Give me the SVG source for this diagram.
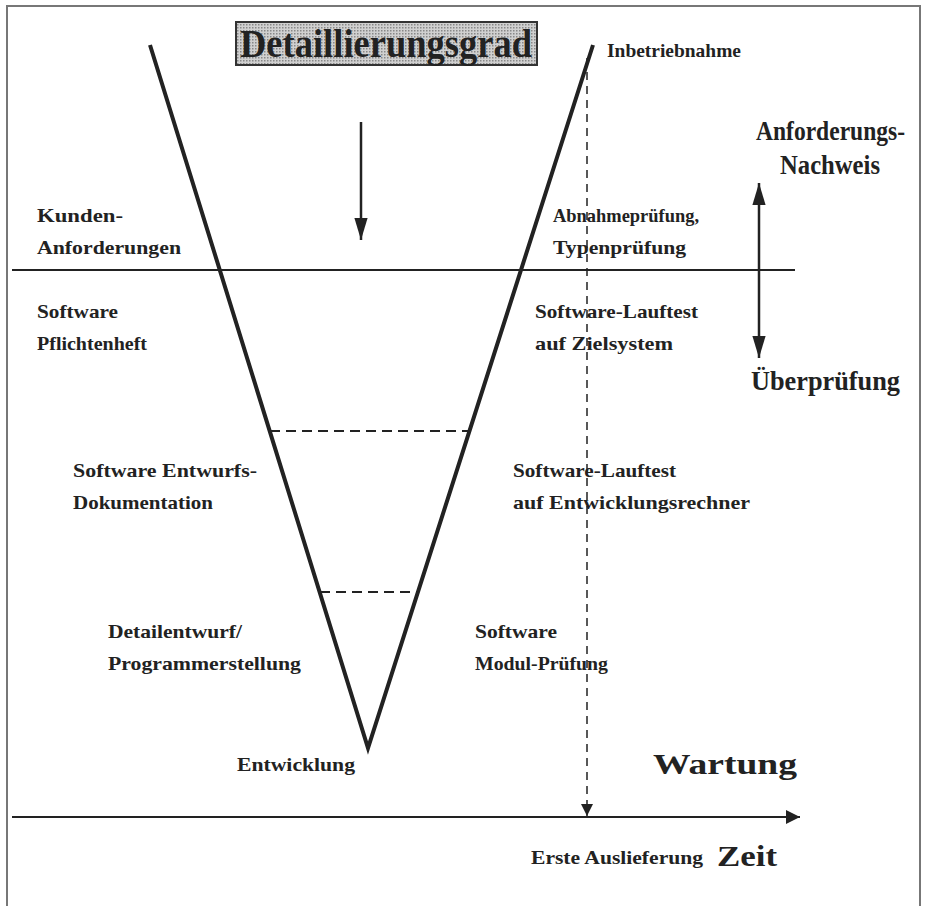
<svg xmlns="http://www.w3.org/2000/svg" width="930" height="906" viewBox="0 0 930 906">
<style>
.t{font-family:"Liberation Serif","Times New Roman",serif;font-weight:bold;fill:#222;}
.s{font-size:19px;}
.b{font-size:27px;}
.w{font-size:30px;}
.ln{stroke:#222;fill:none;}
</style>
<defs>
<pattern id="dots" width="3" height="3" patternUnits="userSpaceOnUse"><rect width="3" height="3" fill="#d0d0d0"/><rect width="1.5" height="1.5" fill="#888"/></pattern>
<marker id="ah" viewBox="0 0 10 10" refX="10" refY="5" markerWidth="14" markerHeight="14" markerUnits="userSpaceOnUse" orient="auto"><path d="M0,0 L10,5 L0,10 z" fill="#222"/></marker>
<marker id="ahs" viewBox="0 0 10 10" refX="10" refY="5" markerWidth="12" markerHeight="12" markerUnits="userSpaceOnUse" orient="auto"><path d="M0,0 L10,5 L0,10 z" fill="#222"/></marker>
<marker id="ahb" viewBox="0 0 10 10" refX="10" refY="5" markerWidth="22" markerHeight="22" markerUnits="userSpaceOnUse" orient="auto"><path d="M0,2 L10,5 L0,8 z" fill="#222"/></marker>
</defs>
<rect x="0" y="0" width="930" height="906" fill="#fff"/>
<rect x="7" y="6" width="913" height="912" fill="none" stroke="#777" stroke-width="2"/>
<g id="connectors">
<path class="ln" d="M150,45 L368,748 L593,45" stroke-width="4" stroke-linejoin="miter"/>
<line class="ln" x1="12" y1="270" x2="795" y2="270" stroke-width="2"/>
<line class="ln" x1="270" y1="431" x2="470" y2="431" stroke-width="2" stroke-dasharray="10,6"/>
<line class="ln" x1="320" y1="592" x2="417" y2="592" stroke-width="2" stroke-dasharray="10,6"/>
<line class="ln" x1="587" y1="58" x2="587" y2="816" stroke-width="1.5" stroke-dasharray="8,6" marker-end="url(#ahs)"/>
<line class="ln" x1="12" y1="817" x2="800" y2="817" stroke-width="2" marker-end="url(#ah)"/>
<line class="ln" x1="361" y1="122" x2="361" y2="240" stroke-width="2.5" marker-end="url(#ahb)"/>
<line class="ln" x1="759" y1="270" x2="759" y2="183" stroke-width="2.5" marker-end="url(#ahb)"/>
<line class="ln" x1="759" y1="270" x2="759" y2="358" stroke-width="2.5" marker-end="url(#ahb)"/>
</g>
<g id="title">
<rect x="236" y="22" width="301" height="43" fill="url(#dots)" stroke="#333" stroke-width="2"/>
<text class="t" x="240" y="57" font-size="40" textLength="292" lengthAdjust="spacingAndGlyphs">Detaillierungsgrad</text>
</g>
<g id="inbetriebnahme"><text class="t s" x="607" y="57" textLength="134" lengthAdjust="spacingAndGlyphs">Inbetriebnahme</text></g>
<g id="anforderungsnachweis">
<text class="t b" x="756" y="140" textLength="149" lengthAdjust="spacingAndGlyphs">Anforderungs-</text>
<text class="t b" x="780" y="174" textLength="100" lengthAdjust="spacingAndGlyphs">Nachweis</text>
</g>
<g id="kunden"><text class="t s" x="37" y="222" textLength="86" lengthAdjust="spacingAndGlyphs">Kunden-</text><text class="t s" x="37" y="254" textLength="144" lengthAdjust="spacingAndGlyphs">Anforderungen</text></g>
<g id="abnahme"><text class="t s" x="553" y="222" textLength="146" lengthAdjust="spacingAndGlyphs">Abnahmeprüfung,</text><text class="t s" x="553" y="254" textLength="133" lengthAdjust="spacingAndGlyphs">Typenprüfung</text></g>
<g id="pflichtenheft"><text class="t s" x="37" y="318" textLength="81" lengthAdjust="spacingAndGlyphs">Software</text><text class="t s" x="37" y="350" textLength="110" lengthAdjust="spacingAndGlyphs">Pflichtenheft</text></g>
<g id="lauftest-ziel"><text class="t s" x="535" y="318" textLength="163" lengthAdjust="spacingAndGlyphs">Software-Lauftest</text><text class="t s" x="535" y="350" textLength="138" lengthAdjust="spacingAndGlyphs">auf Zielsystem</text></g>
<g id="ueberpruefung"><text class="t b" x="751" y="390" textLength="149" lengthAdjust="spacingAndGlyphs">Überprüfung</text></g>
<g id="entwurf"><text class="t s" x="73" y="477" textLength="184" lengthAdjust="spacingAndGlyphs">Software Entwurfs-</text><text class="t s" x="73" y="509" textLength="140" lengthAdjust="spacingAndGlyphs">Dokumentation</text></g>
<g id="lauftest-entw"><text class="t s" x="513" y="477" textLength="163" lengthAdjust="spacingAndGlyphs">Software-Lauftest</text><text class="t s" x="513" y="509" textLength="237" lengthAdjust="spacingAndGlyphs">auf Entwicklungsrechner</text></g>
<g id="detailentwurf"><text class="t s" x="108" y="638" textLength="134" lengthAdjust="spacingAndGlyphs">Detailentwurf/</text><text class="t s" x="108" y="670" textLength="193" lengthAdjust="spacingAndGlyphs">Programmerstellung</text></g>
<g id="modul"><text class="t s" x="475" y="638" textLength="82" lengthAdjust="spacingAndGlyphs">Software</text><text class="t s" x="475" y="670" textLength="133" lengthAdjust="spacingAndGlyphs">Modul-Prüfung</text></g>
<g id="entwicklung"><text class="t s" x="237" y="771" textLength="118" lengthAdjust="spacingAndGlyphs">Entwicklung</text></g>
<g id="wartung"><text class="t w" x="653" y="774" textLength="144" lengthAdjust="spacingAndGlyphs">Wartung</text></g>
<g id="auslieferung"><text class="t s" x="531" y="864" textLength="172" lengthAdjust="spacingAndGlyphs">Erste Auslieferung</text></g>
<g id="zeit"><text class="t w" x="717" y="866" textLength="60" lengthAdjust="spacingAndGlyphs">Zeit</text></g>
</svg>
